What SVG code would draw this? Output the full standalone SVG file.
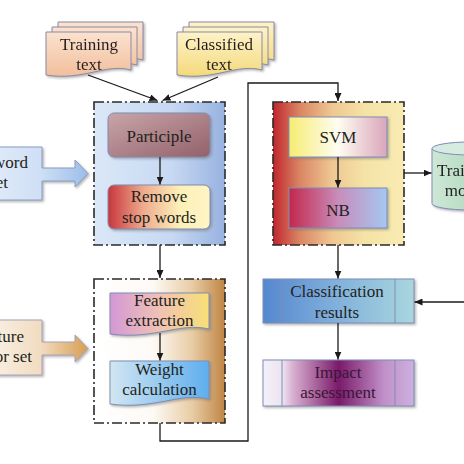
<svg xmlns="http://www.w3.org/2000/svg" width="464" height="464" viewBox="0 0 464 464">
<defs>
<style>
text{font-family:"Liberation Serif","Times New Roman",serif;font-size:17px;fill:#231f20;text-anchor:middle}
.inner{stroke:#7f8db5;stroke-width:1}
.page{stroke:#8a8aa8;stroke-width:1}
.group{stroke:#2a2a2a;stroke-width:1.6;stroke-dasharray:10 3 2 3;fill-opacity:1}
.conn{fill:none;stroke:#1a1a1a;stroke-width:1.3}
.arr{marker-end:url(#ah)}
</style>
<marker id="ah" markerWidth="8" markerHeight="7" refX="8" refY="3.5" orient="auto" markerUnits="userSpaceOnUse"><path d="M0,0 L8,3.5 L0,7 Z" fill="#1a1a1a"/></marker>
<filter id="sh" x="-10%" y="-10%" width="130%" height="130%"><feDropShadow dx="1.5" dy="1.5" stdDeviation="1" flood-color="#777" flood-opacity="0.55"/></filter>
<linearGradient id="gTrain" x1="0" y1="0" x2="0" y2="1"><stop offset="0" stop-color="#fbe2cf"/><stop offset="1" stop-color="#f2bf9c"/></linearGradient>
<linearGradient id="gClass" x1="0" y1="0" x2="0" y2="1"><stop offset="0" stop-color="#fdf3c8"/><stop offset="1" stop-color="#f4d97c"/></linearGradient>
<linearGradient id="gBlueBox" x1="0" y1="0" x2="1" y2="0"><stop offset="0" stop-color="#dbe8f8"/><stop offset="0.6" stop-color="#c6d8f2"/><stop offset="1" stop-color="#98b2e0"/></linearGradient>
<linearGradient id="gBrownBox" x1="0" y1="0" x2="1" y2="0"><stop offset="0" stop-color="#ffffff"/><stop offset="0.45" stop-color="#fdfaf6"/><stop offset="0.75" stop-color="#e8cca4"/><stop offset="1" stop-color="#bf8545"/></linearGradient>
<linearGradient id="gRedBox" x1="0" y1="0" x2="1" y2="0"><stop offset="0" stop-color="#c0262e"/><stop offset="0.2" stop-color="#d98462"/><stop offset="0.45" stop-color="#efc792"/><stop offset="0.7" stop-color="#f5e3a6"/><stop offset="1" stop-color="#f8ebb2"/></linearGradient>
<linearGradient id="gPart" x1="0" y1="0" x2="1" y2="1"><stop offset="0" stop-color="#c8a6a8"/><stop offset="1" stop-color="#93606a"/></linearGradient>
<linearGradient id="gRemove" x1="0" y1="0" x2="1" y2="0"><stop offset="0" stop-color="#c8363c"/><stop offset="0.35" stop-color="#eeac8e"/><stop offset="0.7" stop-color="#fcf0b8"/><stop offset="1" stop-color="#fff5c4"/></linearGradient>
<linearGradient id="gSVM" x1="0" y1="0" x2="1" y2="0"><stop offset="0" stop-color="#f6ec72"/><stop offset="0.5" stop-color="#fffdf2"/><stop offset="1" stop-color="#d9a6bb"/></linearGradient>
<linearGradient id="gNB" x1="0" y1="0" x2="1" y2="0"><stop offset="0" stop-color="#c2284c"/><stop offset="0.5" stop-color="#c98cba"/><stop offset="1" stop-color="#a4c8f2"/></linearGradient>
<linearGradient id="gFeat" x1="0" y1="0" x2="1" y2="0"><stop offset="0" stop-color="#d398d6"/><stop offset="0.5" stop-color="#f0c2b4"/><stop offset="1" stop-color="#f8e076"/></linearGradient>
<linearGradient id="gWeight" x1="0" y1="0" x2="1" y2="0"><stop offset="0" stop-color="#d2e6f2"/><stop offset="1" stop-color="#5eaeee"/></linearGradient>
<linearGradient id="gClsRes" x1="0" y1="0" x2="1" y2="0"><stop offset="0" stop-color="#5587cf"/><stop offset="0.5" stop-color="#82b2dc"/><stop offset="1" stop-color="#a9d6de"/></linearGradient>
<linearGradient id="gImpact" x1="0" y1="0" x2="1" y2="0"><stop offset="0" stop-color="#f4f0f8"/><stop offset="0.13" stop-color="#ece4f0"/><stop offset="0.2" stop-color="#d8aed0"/><stop offset="0.5" stop-color="#7a1a6a"/><stop offset="0.8" stop-color="#c090c8"/><stop offset="1" stop-color="#cdb0e0"/></linearGradient>
<linearGradient id="gCyl" x1="0" y1="0" x2="1" y2="0"><stop offset="0" stop-color="#cde8d6"/><stop offset="1" stop-color="#a2ceb0"/></linearGradient>
<linearGradient id="gStop" gradientUnits="userSpaceOnUse" x1="-30" y1="0" x2="88" y2="0"><stop offset="0" stop-color="#e8f0fb"/><stop offset="0.6" stop-color="#cfdff5"/><stop offset="1" stop-color="#9cbde8"/></linearGradient>
<linearGradient id="gVec" gradientUnits="userSpaceOnUse" x1="-30" y1="0" x2="88" y2="0"><stop offset="0" stop-color="#fdf9f3"/><stop offset="0.6" stop-color="#f1dcc0"/><stop offset="1" stop-color="#d89d52"/></linearGradient>
</defs>
<rect width="464" height="464" fill="#ffffff"/>

<g id="training-text" filter="url(#sh)">
<path class="page" fill="url(#gTrain)" d="M58,22 H143 V60 C117.5,53 96.25,71 58,65 Z"/>
<path class="page" fill="url(#gTrain)" d="M52,27 H137 V65 C111.5,58 90.25,76 52,70 Z"/>
<path class="page" fill="url(#gTrain)" d="M46,32 H131 V70 C105.5,63 84.25,81 46,75 Z"/>
<text x="89" y="50">Training</text>
<text x="89" y="70">text</text>
</g>

<g id="classified-text" filter="url(#sh)">
<path class="page" fill="url(#gClass)" d="M189,22 H274 V60 C248.5,53 227.25,71 189,65 Z"/>
<path class="page" fill="url(#gClass)" d="M183,27 H268 V65 C242.5,58 221.25,76 183,70 Z"/>
<path class="page" fill="url(#gClass)" d="M177,32 H262 V70 C236.5,63 215.25,81 177,75 Z"/>
<text x="219" y="50">Classified</text>
<text x="219" y="70">text</text>
</g>

<g id="stop-word-set">
<path d="M-30,147 H42 V168 H75 V160 L88,173.5 L75,187 V181 H42 V200 H-30 Z" fill="url(#gStop)" stroke="#8a9cc4" stroke-width="1" filter="url(#sh)"/>
<text x="28" y="168" style="text-anchor:end">Stop word</text>
<text x="8" y="188" style="text-anchor:end">set</text>
</g>

<g id="feature-vector-set">
<path d="M-30,320 H42 V342 H75 V335 L88,348.5 L75,362 V355 H42 V375 H-30 Z" fill="url(#gVec)" stroke="#a8a0b8" stroke-width="1" filter="url(#sh)"/>
<text x="24" y="342" style="text-anchor:end">Feature</text>
<text x="32" y="362" style="text-anchor:end">vector set</text>
</g>

<g id="preprocess-group">
<rect class="group" x="94" y="102" width="131" height="143" fill="url(#gBlueBox)"/>
</g>
<g id="participle">
<rect class="inner" x="108" y="113" width="102" height="44" rx="6" fill="url(#gPart)" filter="url(#sh)"/>
<text x="159" y="141.5">Participle</text>
</g>
<g id="remove-stop-words">
<rect class="inner" x="108" y="185" width="102" height="44" rx="6" fill="url(#gRemove)" filter="url(#sh)"/>
<text x="159" y="201.5">Remove</text>
<text x="159" y="222.5">stop words</text>
</g>

<g id="feature-group">
<rect class="group" x="94" y="279" width="131" height="144" fill="url(#gBrownBox)"/>
</g>
<g id="feature-extraction">
<path class="inner" d="M110,293 H209 V329 C179.3,322 154.6,340 110,334 Z" fill="url(#gFeat)" filter="url(#sh)"/>
<text x="159.5" y="305.5">Feature</text>
<text x="159.5" y="326">extraction</text>
</g>
<g id="weight-calculation">
<path class="inner" d="M110,361 H209 V399 C179.3,392 154.6,410 110,404 Z" fill="url(#gWeight)" filter="url(#sh)"/>
<text x="159.5" y="374.5">Weight</text>
<text x="159.5" y="395">calculation</text>
</g>

<g id="classifier-group">
<rect class="group" x="273" y="102" width="131" height="143" fill="url(#gRedBox)"/>
</g>
<g id="svm">
<rect class="inner" x="289" y="117" width="98" height="40" fill="url(#gSVM)" filter="url(#sh)"/>
<text x="338" y="142.5">SVM</text>
</g>
<g id="nb">
<rect class="inner" x="289" y="188" width="98" height="40" fill="url(#gNB)" filter="url(#sh)"/>
<text x="338" y="215.5">NB</text>
</g>

<g id="training-model" filter="url(#sh)">
<path d="M432,148.5 V203.5 A38,6.5 0 0 0 508,203.5 V148.5 Z" fill="url(#gCyl)" stroke="#7f8db5" stroke-width="1"/>
<ellipse cx="470" cy="148.5" rx="38" ry="6.5" fill="#d6ece0" stroke="#7f8db5" stroke-width="1"/>
<text x="466" y="176">Training</text>
<text x="466" y="196">model</text>
</g>

<g id="classification-results">
<rect class="inner" x="263" y="279" width="151" height="44" fill="url(#gClsRes)" filter="url(#sh)"/>
<line class="inner" x1="282" y1="279" x2="282" y2="323"/>
<line class="inner" x1="395" y1="279" x2="395" y2="323"/>
<text x="337" y="297">Classification</text>
<text x="337" y="317.5">results</text>
</g>

<g id="impact-assessment">
<rect class="inner" x="263" y="360" width="151" height="46" fill="url(#gImpact)" filter="url(#sh)"/>
<line class="inner" x1="282" y1="360" x2="282" y2="406"/>
<line class="inner" x1="395" y1="360" x2="395" y2="406"/>
<text x="338" y="378" style="fill:#3a1638">Impact</text>
<text x="338" y="398" style="fill:#3a1638">assessment</text>
</g>

<g id="connectors">
<line class="conn arr" x1="88" y1="75" x2="157.5" y2="100.5"/>
<line class="conn arr" x1="218" y1="77" x2="162.5" y2="100.5"/>
<line class="conn arr" x1="160" y1="157" x2="160" y2="184.5"/>
<line class="conn arr" x1="160" y1="245" x2="160" y2="278"/>
<line class="conn arr" x1="160" y1="333" x2="160" y2="360.5"/>
<polyline class="conn arr" points="160,423 160,441 248,441 248,83 338,83 338,101"/>
<line class="conn arr" x1="338" y1="157" x2="338" y2="187.5"/>
<line class="conn arr" x1="404" y1="173" x2="431.5" y2="173"/>
<line class="conn arr" x1="338" y1="245" x2="338" y2="278.5"/>
<line class="conn arr" x1="338" y1="323" x2="338" y2="359.5"/>
<line class="conn arr" x1="464" y1="302" x2="414.5" y2="302"/>
</g>
</svg>
